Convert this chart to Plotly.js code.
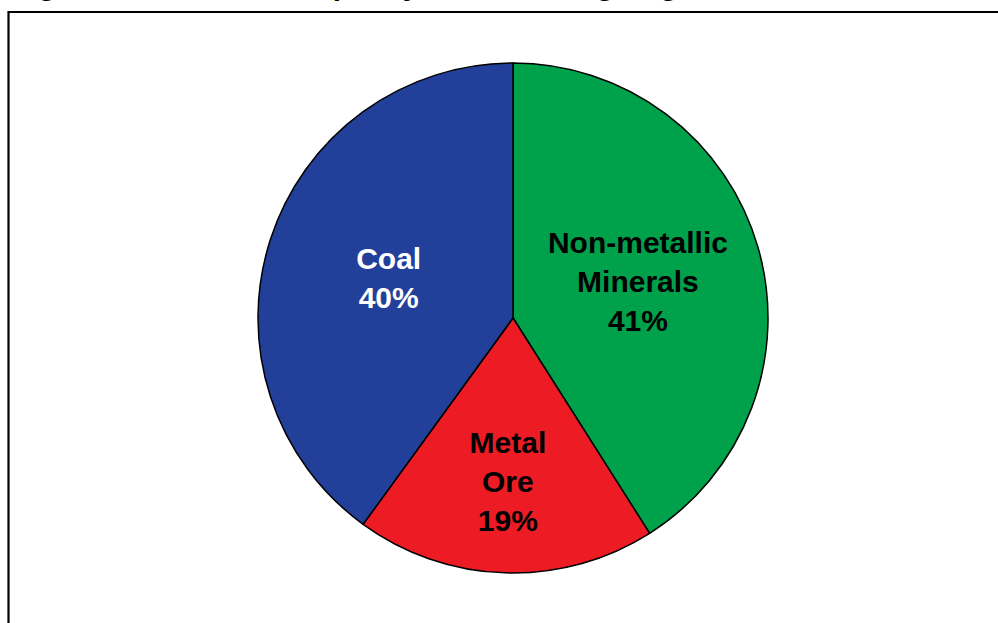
<!DOCTYPE html>
<html>
<head>
<meta charset="utf-8">
<script src="https://cdn.plot.ly/plotly-3.0.1.min.js"></script>
<style>html,body{margin:0;padding:0;background:#fff;}#chart{width:998px;height:623px;}</style>
</head>
<body>
<div id="chart"></div>
<script>
const categories = ["Non-metallic<br>Minerals", "Metal<br>Ore", "Coal"];
const shares = [41, 19, 40];
const sliceColors = ["#00A14B", "#ED1C24", "#22409A"];
const labelColors = ["#000000", "#000000", "#FFFFFF"];
const titleText = "Figure 1-2. Relative Capacity of the Mining Segments, 2004";

const W = 998, H = 623;
const cx = 513, cy = 318, r = 255;

const trace = {
  type: "pie",
  labels: categories,
  values: shares,
  sort: false,
  direction: "clockwise",
  rotation: 0,
  marker: { colors: sliceColors, line: { color: "#000000", width: 1.5 } },
  textinfo: "text",
  texttemplate: "%{label}<br>%{percent}",
  textposition: "inside",
  insidetextorientation: "horizontal",
  insidetextfont: { family: "Liberation Sans, Arial, sans-serif", size: 30, weight: "bold", color: labelColors },
  hoverinfo: "none",
  showlegend: false,
  domain: {
    x: [(cx - r) / W, (cx + r) / W],
    y: [(H - cy - r) / H, (H - cy + r) / H]
  }
};

const layout = {
  width: W, height: H,
  margin: { l: 0, r: 0, t: 0, b: 0 },
  paper_bgcolor: "#ffffff",
  plot_bgcolor: "#ffffff",
  showlegend: false,
  shapes: [{
    type: "rect", xref: "paper", yref: "paper",
    x0: 8.5 / W, x1: 1.02, y0: -0.02, y1: 1 - 12 / H,
    line: { color: "#000000", width: 2.2 }, fillcolor: "rgba(0,0,0,0)"
  }],
  annotations: [{
    text: titleText, showarrow: false,
    xref: "paper", yref: "paper", x: 9 / W, xanchor: "left",
    y: 1 - 3 / H, yanchor: "bottom",
    font: { family: "Liberation Sans, Arial, sans-serif", size: 30, weight: "bold", color: "#000000" }
  }]
};

Plotly.newPlot("chart", [trace], layout, { displayModeBar: false, staticPlot: true });
</script>
</body>
</html>
